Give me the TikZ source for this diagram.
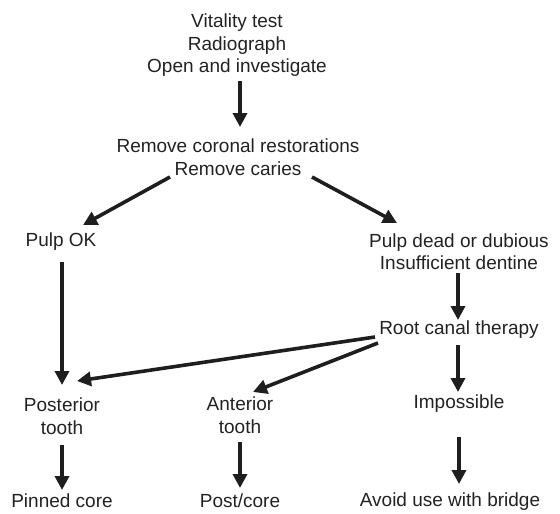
\documentclass[tikz,border=0pt]{standalone}
\usepackage{fontspec}
\setmainfont{Liberation Sans}
\usepackage{xcolor}
\usetikzlibrary{arrows.meta}
\definecolor{FlowInk}{HTML}{1E1E1E}
\definecolor{FlowText}{HTML}{222222}

\begin{document}
\begin{tikzpicture}[x=1pt,y=-1pt,
    lbl/.style={font=\fontsize{19}{22.5}\selectfont,text=FlowText,align=center,inner sep=0pt},
    flow/.style={draw=FlowInk,line width=3.6pt,-{Triangle[length=14pt,width=14pt]}}]
    \useasboundingbox (0,0) rectangle (560,514);
    % Assessment
    \node[lbl] (tests) at (237,45.5){Vitality test\\Radiograph\\Open and investigate};
    \node[lbl] (remove) at (238,157){Remove coronal restorations\\Remove caries};

    % Pulp state
    \node[lbl] (pulpok) at (61,242){Pulp OK};
    \node[lbl] (pulpdead) at (459,251.5){Pulp dead or dubious\\Insufficient dentine};
    \node[lbl] (rct) at (459,330){Root canal therapy};

    % Tooth type
    \node[lbl] (posterior) at (62,416){Posterior\\tooth};
    \node[lbl] (anterior) at (240,415){Anterior\\tooth};
    \node[lbl] (impossible) at (459,404){Impossible};

    % Outcome
    \node[lbl] (pinned) at (62,501){Pinned core};
    \node[lbl] (postcore) at (240,501){Post/core};
    \node[lbl] (avoid) at (450,502){Avoid use with bridge};

    % Arrows
    \draw[flow] ([xshift=3pt,yshift=-35.5pt]tests.center) -- ([xshift=2pt,yshift=30pt]remove.center);
    \draw[flow] ([xshift=-68pt,yshift=-20pt]remove.center) -- ([xshift=22pt,yshift=17pt]pulpok.center);
    \draw[flow] ([xshift=74pt,yshift=-20pt]remove.center) -- ([xshift=-62pt,yshift=28.5pt]pulpdead.center);
    \draw[flow] ([xshift=1pt,yshift=-20pt]pulpok.center) -- ([yshift=31pt]posterior.center);
    \draw[flow] ([xshift=-1pt,yshift=-21.5pt]pulpdead.center) -- ([xshift=-1pt,yshift=10pt]rct.center);
    \draw[flow] ([xshift=-84pt,yshift=-7pt]rct.center) -- ([xshift=15pt,yshift=35pt]posterior.center);
    \draw[flow] ([xshift=-81pt,yshift=-13pt]rct.center) -- ([xshift=13pt,yshift=23pt]anterior.center);
    \draw[flow] ([xshift=-1pt,yshift=-15pt]rct.center) -- ([xshift=-1pt,yshift=12pt]impossible.center);
    \draw[flow] ([yshift=-29pt]posterior.center) -- ([yshift=11pt]pinned.center);
    \draw[flow] ([yshift=-27pt]anterior.center) -- ([yshift=13pt]postcore.center);
    \draw[flow] ([yshift=-33pt]impossible.center) -- ([xshift=9pt,yshift=18pt]avoid.center);
  \end{tikzpicture}
\end{document}
